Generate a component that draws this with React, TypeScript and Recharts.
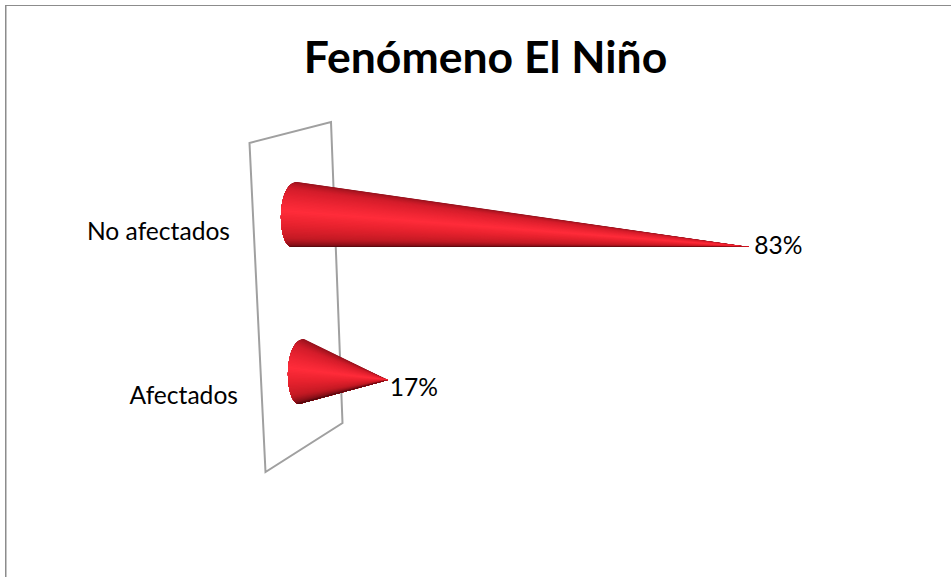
import { Bar, BarChart, Customized, LabelList, XAxis, YAxis } from 'recharts'

const categories = ['No afectados', 'Afectados']
const percentages = [83, 17]

const chartData = categories.map((name, i) => ({ name, value: percentages[i] }))

const FONT = 'Lato, Carlito, sans-serif'

// colour going round the cone, top edge to bottom edge
const shadeStops: [number, number[]][] = [
  [0, [145, 18, 28]],
  [0.18, [210, 28, 42]],
  [0.36, [240, 38, 52]],
  [0.46, [255, 44, 58]],
  [0.6, [232, 34, 46]],
  [0.78, [195, 26, 36]],
  [0.92, [125, 14, 22]],
  [1, [62, 6, 10]],
]

function shade(t: number) {
  for (let i = 1; i < shadeStops.length; i++) {
    const [t0, c0] = shadeStops[i - 1]
    const [t1, c1] = shadeStops[i]
    if (t <= t1) {
      const k = (t - t0) / (t1 - t0)
      return `rgb(${c0.map((c, j) => Math.round(c + (c1[j] - c) * k)).join(',')})`
    }
  }
  return 'rgb(62,6,10)'
}

function cubic(a: number, b: number, c: number, d: number, t: number) {
  const u = 1 - t
  return u * u * u * a + 3 * u * u * t * b + 3 * u * t * t * c + t * t * t * d
}

function Cone(props: any) {
  const { x, y, width, height, index } = props
  const base = x + 1 + index * 7
  const tipX = x + width + index * 3
  const tipY = y + height / 2 + (index === 0 ? 32.5 : 8.5)
  const top = { x: base + 5, y }
  const bottom = { x: base, y: y + height }
  const left = base - 12
  const n = 60
  const curve: string[] = []
  for (let i = 0; i <= n; i++) {
    const t = i / n
    const px = cubic(top.x, left - 4, left - 3, bottom.x, t)
    const py = cubic(top.y, y + height * 0.02, y + height * 0.98, bottom.y, t)
    curve.push(`${px},${py}`)
  }
  // painted top to bottom, each slice covers everything still left so no seams show
  const slices = []
  for (let i = 0; i < n; i++) {
    slices.push(
      <polygon
        key={i}
        points={`${curve.slice(i).join(' ')} ${tipX},${tipY}`}
        fill={shade((i + 0.5) / n)}
      />
    )
  }
  return <g>{slices}</g>
}

function ValueLabel(props: any) {
  const { x, y, width, height, value, index } = props
  return (
    <text
      x={x + width + (index === 0 ? 5 : 5)}
      y={y + height / 2 + (index === 0 ? 33 : 18)}
      dominantBaseline="middle"
      fontFamily={FONT}
      fontSize={24.6}
      fill="#000"
    >
      {value}%
    </text>
  )
}

function CategoryTick(props: any) {
  const { x, y, payload, index } = props
  return (
    <text
      x={x - 53 + index * 8}
      y={y + (index === 0 ? 19 : 26)}
      textAnchor="end"
      dominantBaseline="middle"
      fontFamily={FONT}
      fontSize={24.6}
      fill="#000"
    >
      {payload.value}
    </text>
  )
}

function Backdrop() {
  return (
    <g>
      <line x1={5} y1={5.5} x2={951} y2={5.5} stroke="#8c8c8c" strokeWidth={1} />
      <line x1={5.75} y1={5} x2={5.75} y2={577} stroke="#8c8c8c" strokeWidth={1.5} />
      <text x={485.5} y={73} textAnchor="middle" fontFamily={FONT} fontWeight={700} fontSize={44.5} fill="#000">
        Fenómeno El Niño
      </text>
      <polygon points="249.5,143 331,122 342.5,423 265.5,472" fill="none" stroke="#a0a0a0" strokeWidth={2} />
    </g>
  )
}

export default function App() {
  return (
    <div style={{ position: 'absolute', left: 0, top: 0 }}>
      <BarChart
        width={951}
        height={577}
        data={chartData}
        layout="vertical"
        margin={{ top: 136, right: 108, bottom: 127, left: 0 }}
      >
        <Customized component={Backdrop} />
        <XAxis type="number" domain={[0, 100]} hide />
        <YAxis
          type="category"
          dataKey="name"
          width={291}
          axisLine={false}
          tickLine={false}
          tick={CategoryTick}
          interval={0}
        />
        <Bar dataKey="value" barSize={65} shape={Cone} isAnimationActive={false}>
          <LabelList dataKey="value" content={ValueLabel} />
        </Bar>
      </BarChart>
    </div>
  )
}
